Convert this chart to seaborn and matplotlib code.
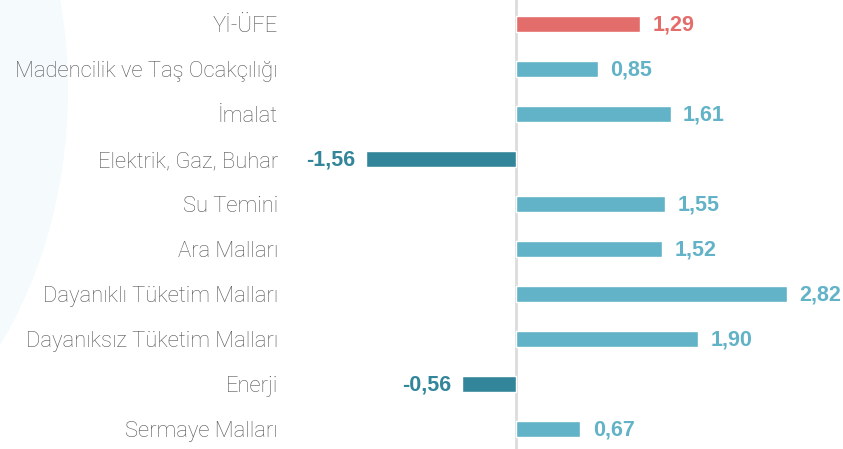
import matplotlib
matplotlib.use("Agg")
import matplotlib.pyplot as plt
import seaborn as sns
import pandas as pd
from matplotlib.patches import Ellipse

categories = ["Yİ-ÜFE", "Madencilik ve Taş Ocakçılığı", "İmalat", "Elektrik, Gaz, Buhar",
              "Su Temini", "Ara Malları", "Dayanıklı Tüketim Malları",
              "Dayanıksız Tüketim Malları", "Enerji", "Sermaye Malları"]
values = [1.29, 0.85, 1.61, -1.56, 1.55, 1.52, 2.82, 1.90, -0.56, 0.67]
labels = ["1,29", "0,85", "1,61", "-1,56", "1,55", "1,52", "2,82", "1,90", "-0,56", "0,67"]

RED = "#E36D6B"
LIGHT = "#62B3C7"
DARK = "#33869A"
colors = [RED if i == 0 else (DARK if v < 0 else LIGHT) for i, v in enumerate(values)]

sns.set_theme(style="white")
plt.rcParams['font.family'] = ['Liberation Sans', 'DejaVu Sans']

df = pd.DataFrame({"cat": categories, "val": values})

fig = plt.figure(figsize=(8.43, 4.49), dpi=100)
fig.patch.set_facecolor("white")

# faint decorative arc in background
bg = fig.add_axes([0, 0, 1, 1], zorder=-1)
bg.set_xlim(0, 843)
bg.set_ylim(449, 0)
bg.axis("off")
bg.add_patch(Ellipse((-262, 90), 660, 840, color="#F5FAFC", lw=0))

ax = fig.add_axes([300/843, 0, 543/843, 1])
ax.patch.set_alpha(0)
sns.barplot(data=df, x="val", y="cat", hue="cat", palette=colors, legend=False,
            width=0.36, orient="h", ax=ax, saturation=1)

ax.set_xlim((300-516)/96, (843-516)/96)
ax.set_ylim((449-24)/45, -24/45)
ax.axvline(0, color="#DCDCDC", lw=2, zorder=0)
for s in ax.spines.values():
    s.set_visible(False)
ax.set_xticks([])
ax.set_xlabel("")
ax.set_ylabel("")
ax.tick_params(axis="y", length=0, pad=16, labelsize=15.8, labelcolor="#555555")
for t in ax.get_yticklabels():
    t.set_family(["Roboto", "DejaVu Sans"])
    t.set_fontweight("light")

for i, (v, lab, c) in enumerate(zip(values, labels, colors)):
    if v >= 0:
        ax.annotate(lab, (v, i), xytext=(9, -1), textcoords="offset points",
                    ha="left", va="center", fontsize=15.5, fontweight="bold", color=c)
    else:
        ax.annotate(lab, (v, i), xytext=(-8, -1), textcoords="offset points",
                    ha="right", va="center", fontsize=15.5, fontweight="bold", color=c)

fig.savefig("out.png", dpi=100)
